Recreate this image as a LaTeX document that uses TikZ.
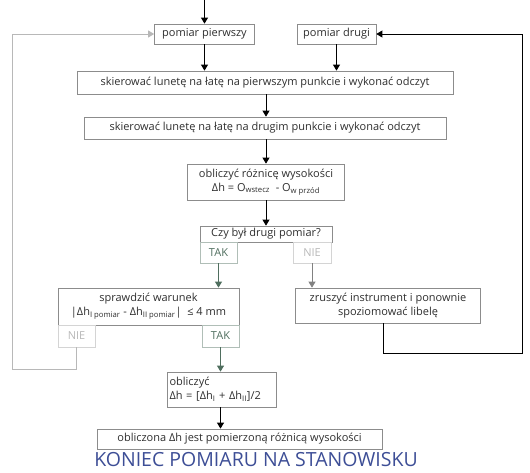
\documentclass[tikz,border=0pt]{standalone}
\usepackage{fontspec}
\setmainfont{Open Sans}
\usepackage{xcolor}
\usetikzlibrary{arrows.meta}
\definecolor{flowgray}{HTML}{8c8c8c}
\definecolor{flowtext}{HTML}{2e2e2e}
\definecolor{flowgreen}{HTML}{4f6e5e}
\definecolor{flowpale}{HTML}{b8b8b8}
\definecolor{flowblue}{HTML}{3d4e96}
\tikzset{
  stepbox/.style={draw=flowgray,line width=0.7pt,inner sep=0pt,text=flowtext,
    font=\fontsize{11}{14}\selectfont,align=center},
  takbox/.style={stepbox,draw=flowgreen!45,text=flowgreen},
  niebox/.style={stepbox,draw=flowpale!60,text=flowpale},
  flow/.style={line width=0.8pt,-{Triangle[length=6pt,width=7pt]}},
}

\begin{document}
\begin{tikzpicture}[x=1pt,y=-1pt]
  \useasboundingbox (0,0) rectangle (530,472);
  \coordinate (start) at (204.5,0);
  \node[stepbox,minimum width=100,minimum height=20] (p1) at (204.5,34) {pomiar pierwszy};
  \node[stepbox,minimum width=79,minimum height=20] (p2) at (336.5,34) {pomiar drugi};
  \node[stepbox,minimum width=376,minimum height=23] (s1) at (265,82.5)
    {skierować lunetę na łatę na pierwszym punkcie i wykonać odczyt};
  \node[stepbox,minimum width=362,minimum height=22] (s2) at (265,128)
    {skierować lunetę na łatę na drugim punkcie i wykonać odczyt};
  \node[stepbox,minimum width=157,minimum height=36] (diff) at (266,182)
    {obliczyć różnicę wysokości\\ Δh = O\textsubscript{wstecz}~~- O\textsubscript{w przód}};
  \node[stepbox,minimum width=132,minimum height=16] (ask) at (266,234) {Czy był drugi pomiar?};
  \node[takbox,minimum width=37,minimum height=21] (yes1) at (218.5,252.5) {TAK};
  \node[niebox,minimum width=38,minimum height=21] (no1) at (312,252.5) {NIE};
  \node[stepbox,minimum width=181,minimum height=37] (check) at (148.5,306.5)
    {sprawdzić warunek\\ |Δh\textsubscript{I pomiar} - Δh\textsubscript{II pomiar}|~~≤ 4 mm};
  \node[niebox,minimum width=37,minimum height=22] (no2) at (76.5,336) {NIE};
  \node[takbox,minimum width=37,minimum height=22] (yes2) at (220.5,336) {TAK};
  \node[stepbox,minimum width=185,minimum height=35] (relevel) at (388,305.5)
    {zruszyć instrument i ponownie\\ spoziomować libelę};
  \node[stepbox,minimum width=109,minimum height=35,align=left,text width=104] (avg) at (221.5,389.5)
    {obliczyć\\ Δh = [Δh\textsubscript{I} + Δh\textsubscript{II}]/2};
  \node[stepbox,minimum width=285,minimum height=20] (result) at (239.5,439)
    {obliczona Δh jest pomierzoną różnicą wysokości};
  \node[text=flowblue,font=\fontsize{19.5}{19.5}\selectfont,inner sep=0pt] (end) at (256,460)
    {KONIEC POMIARU NA STANOWISKU};
  \coordinate (loopL) at (12,369);
  \coordinate (loopR) at (522,353);

  \draw[flow] (start) -- (p1);
  \draw[flow] (p1) -- (p1 |- s1.north);
  \draw[flow] (p2) -- (p2 |- s1.north);
  \draw[flow] (s1.south -| diff) -- (s2.north -| diff);
  \draw[flow] (s2.south -| diff) -- (diff);
  \draw[flow] (diff) -- (ask);
  \draw[flow,flowgreen] (yes1) -- (yes1 |- check.north);
  \draw[flow,flowpale!70!black] (no1) -- (no1 |- relevel.north);
  \draw[flow,flowgreen] (yes2) -- (yes2 |- avg.north);
  \draw[flow] (avg.south -| yes2) -- (yes2 |- result.north);
  \draw[flow,flowpale] (no2.south) |- (loopL) |- (p1.west);
  \draw[flow] (relevel.south -| 383,0) |- (loopR) |- (p2.east);
\end{tikzpicture}
\end{document}
